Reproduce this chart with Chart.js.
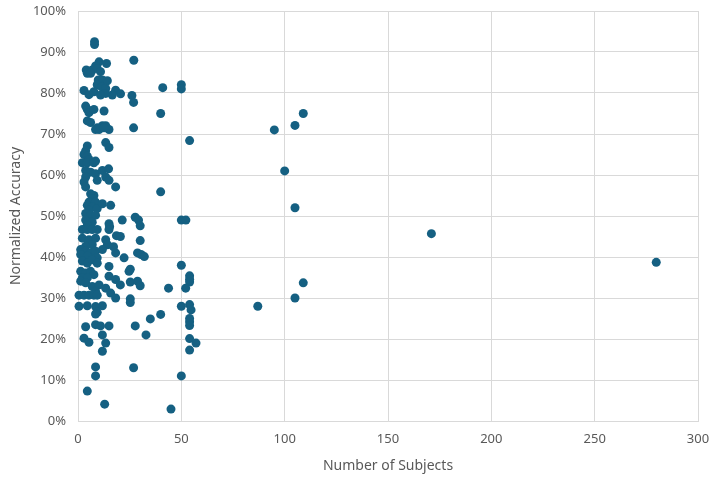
<!DOCTYPE html>
<html>
<head>
<meta charset="utf-8">
<script src="https://cdn.jsdelivr.net/npm/chart.js@4"></script>
<style>
  html, body { margin: 0; padding: 0; background: #fff; }
  #wrap { width: 716px; height: 478px; }
</style>
</head>
<body>
<div id="wrap"><canvas id="chart" width="716" height="478"></canvas></div>
<script>
// number of subjects per study
const subjects = [
  8, 8,
  10.2, 13.8, 8.5, 4, 6.9, 9.3, 4.5, 6.1, 10.9,
  9.8, 11.8, 14.2, 9.3, 11.4, 13.4,
  2.9, 7.7, 13.4, 18.2, 20.6, 5.3, 10.9, 16.6,
  3.7, 4.5, 5.3, 7.7, 12.6,
  4.5, 6.1,
  8.5, 10.2, 11.8, 13.4, 15, 9.3, 12.6,
  13.4, 15, 4.5, 3.7, 2.9, 4.5,
  5.3, 8.5,
  2.1, 4.5, 7.7,
  3.7, 6.1, 8.5, 11.8, 14.8,
  13.4, 15, 3.7, 2.9, 3.7, 9.3, 18.2,
  7.7, 6.1, 6.9, 5.3, 8.5, 4.5, 6.9, 5.3, 9.3, 3.7, 6.1, 8.5, 11.8, 15.8,
  3.7, 6.9, 4.5, 15, 21.4, 15.3,
  2.1, 4.5, 6.9, 9.3, 15, 18.6, 20.5,
  2.1, 5.3, 8.5, 6.9, 3.7, 13.4, 14.2,
  1.3, 3.7, 6.1, 1.3, 4.5, 8.5, 9.3, 11.8, 18.2, 17.2, 22.3,
  2.1, 4.5, 6.9, 9.3, 15,
  1.3, 3.7, 6.1, 7.7, 2.1, 4.5, 1.3, 3.7, 15, 18.2, 24.7,
  6.9, 10.2, 8.5, 13.4, 15.8, 20.5,
  0.5, 2.9, 5.3, 7.7, 9.3, 18.2,
  0.5, 4.5, 8.5, 11.8, 9.3, 8.5,
  3.7, 8.5, 10.9, 15, 27.7,
  11.8, 2.9, 5.3, 13.4, 11.8,
  8.5, 8.5, 26.9, 4.5, 12.9,
  27, 41, 50, 50, 26.1, 26.9, 40, 26.9, 54, 40, 27.7, 29.3, 30.1, 50, 52.2,
  30.1, 28.8, 30.5, 32.1, 25.3, 50, 54, 54, 54, 25.3, 28.8, 30.1, 43.8, 52.1,
  25.3, 25.3, 50, 54, 54.7, 54, 54, 54, 40, 35, 32.9, 54, 57.1, 54, 50, 45,
  279.8, 171, 109, 105, 95, 100, 105, 105, 109, 87
];

// normalized accuracy, percent
const accuracy = [
  92.5, 91.8,
  87.6, 87.2, 86.6, 85.6, 85.6, 86, 84.8, 84.8, 85.2,
  83.2, 83.2, 83, 82, 81.5, 81.1,
  80.6, 80.3, 79.9, 80.7, 79.8, 79.6, 79.5, 79.5,
  76.8, 76, 75.2, 76, 75.6,
  73.2, 72.8,
  71.1, 71.1, 72, 72, 71.1, 71.5, 71.5,
  67.9, 66.7, 67.1, 65.9, 65, 64.6,
  63.8, 63.4,
  63, 63, 63,
  61.1, 60.7, 60.3, 61.1, 61.5,
  59.5, 58.7, 59.5, 58.3, 57.1, 58.7, 57.1,
  55, 55.4, 54.2, 53.4, 53.4, 52.6, 52.2, 51.4, 51.8, 50.6, 50.2, 50.2, 53, 52.6,
  49, 48.5, 47.7, 48.1, 49, 47.4,
  46.7, 46.7, 46.7, 46.7, 46.7, 45.2, 45,
  44.6, 44.2, 44.6, 43, 42.6, 44.2, 43,
  41.8, 41.4, 41, 40.6, 40.2, 41.4, 39.8, 41.8, 41, 42.5, 39.8,
  39, 38.5, 39.3, 38.5, 37.7,
  36.5, 36.1, 36.5, 35.7, 34.9, 34.9, 34.1, 33.7, 35.3, 34.5, 36.5,
  32.8, 33.2, 31.6, 32.4, 31.2, 33.2,
  30.7, 30.7, 30.7, 30.7, 30.7, 30,
  28, 28.1, 27.9, 28.1, 26.5, 26.1,
  23, 23.5, 23.2, 23.2, 23.2,
  21, 20.2, 19.2, 19, 17,
  13.2, 11, 13, 7.3, 4.1,
  88, 81.3, 82, 81, 79.4, 77.7, 75, 71.5, 68.4, 55.9, 49.7, 49, 47.6, 49, 49,
  44, 41, 40.6, 40.1, 37, 38, 35.4, 34.6, 33.9, 33.9, 34.1, 33, 32.4, 32.4,
  29.8, 28.9, 28, 28.4, 27.1, 25, 24.2, 23.3, 26, 24.9, 21, 20.1, 19, 17.3, 11, 2.9,
  38.7, 45.7, 75, 72.1, 71, 61, 52, 30, 33.7, 28
];

const xTicks = [0, 50, 100, 150, 200, 250, 300];
const yTicks = [0, 10, 20, 30, 40, 50, 60, 70, 80, 90, 100];

const points = subjects.map((s, i) => ({ x: s, y: accuracy[i] }));

const font = { family: "'Noto Sans', 'Open Sans', sans-serif", size: 13 };
const grey = "#595959";

// drop the automatic label overhang so the plot area follows layout.padding
function noOverhang(axis) {
  axis.paddingTop = 0;
  axis.paddingBottom = 0;
  axis.paddingLeft = 0;
  axis.paddingRight = 0;
}

new Chart(document.getElementById("chart"), {
  type: "scatter",
  data: {
    datasets: [{
      data: points,
      backgroundColor: "#156082",
      borderColor: "#156082",
      pointRadius: 4.5,
      pointHoverRadius: 4.5,
      borderWidth: 0,
      clip: false
    }]
  },
  options: {
    responsive: false,
    animation: false,
    layout: { padding: { left: 0, right: 18, top: 11, bottom: 0 } },
    plugins: { legend: { display: false }, tooltip: { enabled: false } },
    scales: {
      x: {
        type: "linear",
        min: xTicks[0],
        max: xTicks[xTicks.length - 1],
        afterBuildTicks: axis => { axis.ticks = xTicks.map(v => ({ value: v })); },
        afterFit: axis => { axis.height = 57; noOverhang(axis); },
        grid: { color: "#d9d9d9", drawTicks: false },
        border: { color: "#d9d9d9" },
        ticks: { color: grey, font: font, padding: 10 },
        title: {
          display: true,
          text: "Number of Subjects",
          color: grey,
          font: { family: font.family, size: 14 },
          padding: { top: 4, bottom: 4 }
        }
      },
      y: {
        min: yTicks[0],
        max: yTicks[yTicks.length - 1],
        afterBuildTicks: axis => { axis.ticks = yTicks.map(v => ({ value: v })); },
        afterFit: axis => { axis.width = 78; noOverhang(axis); },
        grid: { color: "#d9d9d9", drawTicks: false },
        border: { color: "#d9d9d9" },
        ticks: { color: grey, font: font, padding: 12, callback: v => v + "%" },
        title: {
          display: true,
          text: "Normalized Accuracy",
          color: grey,
          font: { family: font.family, size: 14 },
          padding: { top: 8, bottom: 4 }
        }
      }
    }
  }
});
</script>
</body>
</html>
